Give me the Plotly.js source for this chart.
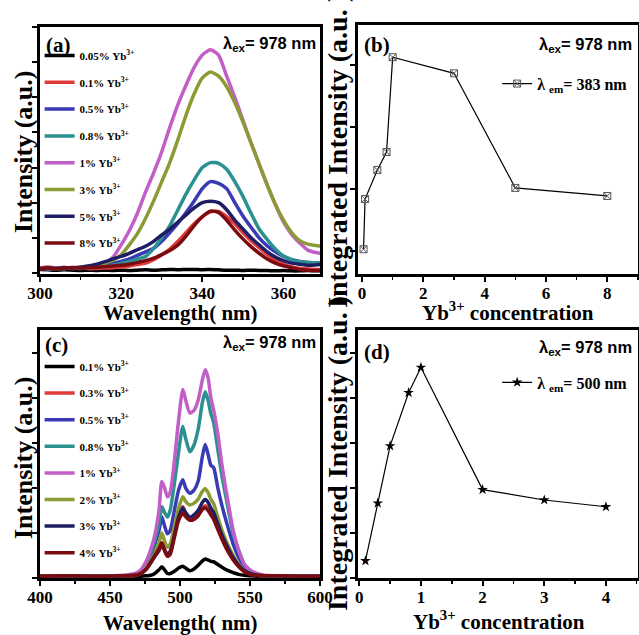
<!DOCTYPE html>
<html><head><meta charset="utf-8">
<script src="https://cdn.plot.ly/plotly-3.0.1.min.js"></script>
<style>html,body{margin:0;padding:0;background:#fff;} #chart{width:639px;height:635px;}</style>
</head><body><div id="chart"></div>
<script>
// ---------- Panel (a): emission spectra around 340 nm ----------
const wlA = [300,302,304,306,308,310,312,314,316,318,320,322,324,326,328,330,332,334,336,338,340,342,344,346,348,350,352,354,356,358,360,362,364,366,368,370];
const a005 = [0.1,0.09,0.08,0.09,0.08,0.07,0.08,0.07,0.08,0.07,0.08,0.07,0.08,0.09,0.08,0.09,0.1,0.09,0.1,0.1,0.09,0.1,0.09,0.08,0.08,0.07,0.08,0.07,0.07,0.06,0.07,0.06,0.06,0.07,0.06,0.06];
const a01 = [0.15,0.17,0.14,0.16,0.13,0.14,0.12,0.13,0.14,0.15,0.17,0.2,0.24,0.28,0.38,0.52,0.68,0.9,1.15,1.4,1.6,1.74,1.75,1.6,1.4,1.15,0.92,0.72,0.52,0.36,0.25,0.17,0.13,0.11,0.1,0.1];
const a05 = [0.13,0.15,0.12,0.14,0.13,0.15,0.16,0.18,0.22,0.27,0.33,0.4,0.5,0.6,0.7,0.9,1.15,1.42,1.72,2.05,2.4,2.6,2.55,2.4,2.0,1.62,1.3,1.0,0.77,0.6,0.47,0.38,0.33,0.3,0.28,0.3];
const a08 = [0.14,0.12,0.13,0.12,0.14,0.13,0.15,0.16,0.18,0.22,0.27,0.33,0.4,0.47,0.7,1.0,1.35,1.8,2.25,2.65,3.0,3.14,3.12,2.95,2.6,2.18,1.7,1.25,0.95,0.68,0.48,0.38,0.32,0.3,0.28,0.3];
const a1 = [0.15,0.12,0.15,0.13,0.16,0.15,0.18,0.2,0.28,0.45,0.8,1.2,1.7,2.3,2.85,3.45,4.15,4.8,5.35,5.85,6.2,6.35,6.2,5.6,5.0,4.35,3.7,3.1,2.5,1.95,1.45,1.1,0.85,0.65,0.58,0.55];
const a3 = [0.12,0.14,0.12,0.15,0.14,0.17,0.2,0.22,0.28,0.36,0.52,0.8,1.12,1.55,2.05,2.6,3.15,3.8,4.5,5.1,5.55,5.72,5.6,5.3,4.85,4.3,3.7,3.1,2.5,1.95,1.5,1.15,0.92,0.82,0.78,0.75];
const a5 = [0.12,0.14,0.13,0.15,0.14,0.16,0.2,0.25,0.32,0.4,0.47,0.56,0.66,0.76,0.9,1.08,1.25,1.45,1.65,1.85,2.0,2.04,2.0,1.8,1.5,1.25,1.0,0.8,0.6,0.45,0.35,0.28,0.25,0.22,0.23,0.25];
const a8 = [0.12,0.14,0.12,0.13,0.15,0.14,0.15,0.16,0.18,0.2,0.22,0.25,0.3,0.35,0.42,0.52,0.64,0.8,1.05,1.35,1.6,1.76,1.72,1.5,1.22,0.97,0.75,0.56,0.4,0.28,0.2,0.15,0.1,0.08,0.07,0.07];
const labelsA = ['0.05%','0.1%','0.5%','0.8%','1%','3%','5%','8%'];

// ---------- Panel (b): integrated intensity, λem = 383 nm ----------
const concB = [0.05,0.1,0.5,0.8,1,3,5,8];
const intB = [1.03,1.84,2.31,2.6,4.13,3.87,2.02,1.89];

// ---------- Panel (c): emission spectra around 500 nm ----------
const wlC = [400,420,440,460,468,472,476,479,482,485,487,489,491,493,496,499,502,504,507,510,513,516,518,520,522,524,527,530,534,538,542,546,550,555,560,570,585,600];
const c01 = [0.03,0.04,0.03,0.04,0.04,0.04,0.05,0.06,0.1,0.18,0.25,0.18,0.1,0.1,0.15,0.22,0.26,0.22,0.16,0.2,0.28,0.38,0.42,0.4,0.37,0.36,0.3,0.24,0.17,0.12,0.08,0.06,0.05,0.04,0.04,0.04,0.03,0.03];
const c03 = [0.04,0.05,0.04,0.05,0.06,0.1,0.2,0.33,0.48,0.6,0.75,0.62,0.52,0.6,1.0,1.4,1.58,1.42,1.3,1.33,1.42,1.55,1.6,1.55,1.42,1.33,1.1,0.88,0.62,0.42,0.26,0.15,0.09,0.06,0.05,0.05,0.04,0.04];
const c05 = [0.04,0.05,0.04,0.05,0.07,0.13,0.28,0.48,0.75,1.05,1.36,1.15,0.98,1.05,1.5,1.95,2.18,2.0,1.88,1.95,2.15,2.7,2.96,2.75,2.5,2.45,2.0,1.6,1.15,0.75,0.45,0.25,0.14,0.08,0.05,0.05,0.04,0.04];
const c08 = [0.04,0.05,0.04,0.05,0.08,0.15,0.32,0.55,0.85,1.2,1.58,1.45,1.35,1.5,2.1,2.8,3.36,3.1,2.8,2.95,3.3,3.9,4.13,3.95,3.65,3.45,2.85,2.25,1.6,0.98,0.6,0.3,0.17,0.09,0.05,0.05,0.04,0.04];
const c1 = [0.04,0.05,0.04,0.06,0.1,0.18,0.38,0.62,0.95,1.5,2.14,2.0,1.8,1.9,2.6,3.5,4.18,3.95,3.66,3.72,3.95,4.4,4.62,4.45,4.0,3.73,3.2,2.5,1.75,1.05,0.6,0.3,0.18,0.1,0.06,0.05,0.04,0.04];
const c2 = [0.04,0.05,0.04,0.05,0.06,0.11,0.22,0.38,0.55,0.78,1.0,0.82,0.68,0.75,1.15,1.55,1.8,1.7,1.62,1.66,1.75,1.92,1.98,1.9,1.75,1.65,1.35,1.05,0.75,0.5,0.3,0.17,0.1,0.06,0.05,0.05,0.04,0.04];
const c3 = [0.04,0.05,0.04,0.05,0.06,0.1,0.2,0.33,0.48,0.62,0.76,0.62,0.52,0.58,0.95,1.35,1.55,1.45,1.35,1.4,1.5,1.68,1.74,1.68,1.55,1.45,1.2,0.95,0.68,0.45,0.28,0.16,0.1,0.06,0.05,0.05,0.04,0.04];
const c4 = [0.04,0.05,0.04,0.05,0.06,0.1,0.2,0.35,0.5,0.65,0.78,0.6,0.48,0.52,0.9,1.28,1.44,1.36,1.28,1.3,1.38,1.52,1.56,1.5,1.4,1.3,1.08,0.86,0.6,0.4,0.25,0.14,0.08,0.06,0.05,0.05,0.04,0.04];
const labelsC = ['0.1%','0.3%','0.5%','0.8%','1%','2%','3%','4%'];

// ---------- Panel (d): integrated intensity, λem = 500 nm ----------
const concD = [0.1,0.3,0.5,0.8,1,2,3,4];
const intD = [0.38,1.66,2.93,4.11,4.67,1.96,1.73,1.58];

const colors = ['#000000','#e03a3a','#3a3ab4','#2a9090','#c25ec8','#8c9a34','#1e1e64','#7a0c10'];

const SERIF = 'Liberation Serif';
const SANS = 'Liberation Sans';

const traces = [];
const seriesA = [a005,a01,a05,a08,a1,a3,a5,a8];
seriesA.forEach((ys,i)=>{
  traces.push({x:wlA, y:ys, type:'scatter', mode:'lines', xaxis:'x', yaxis:'y',
    name: labelsA[i] + ' Yb<sup>3+</sup>', legend:'legend', legendgroup:'a'+i,
    line:{color:colors[i], width:3.5, shape:'spline', smoothing:0.6}});
});
traces.push({x:concB, y:intB, type:'scatter', mode:'lines+markers', xaxis:'x2', yaxis:'y2',
  name:'λ <sub>em</sub>= 383 nm', legend:'legend2',
  line:{color:'#000', width:1.2}, marker:{symbol:'square-x-open', size:7, color:'#555', line:{width:1}}});
const seriesC = [c01,c03,c05,c08,c1,c2,c3,c4];
seriesC.forEach((ys,i)=>{
  traces.push({x:wlC, y:ys, type:'scatter', mode:'lines', xaxis:'x3', yaxis:'y3',
    name: labelsC[i] + ' Yb<sup>3+</sup>', legend:'legend3', legendgroup:'c'+i,
    line:{color:colors[i], width:3.5, shape:'spline', smoothing:0.6}});
});
traces.push({x:concD, y:intD, type:'scatter', mode:'lines+markers', xaxis:'x4', yaxis:'y4',
  name:'λ <sub>em</sub>= 500 nm', legend:'legend4',
  line:{color:'#000', width:1.2}, marker:{symbol:'star', size:8, color:'#000'}});

function ax(o){
  return Object.assign({
    showline:true, linecolor:'#000', linewidth:3, mirror:true,
    ticks:'outside', ticklen:5, tickwidth:2, tickcolor:'#000',
    showgrid:false, zeroline:false, automargin:false,
    tickfont:{family:SERIF, size:17, color:'#000', weight:'bold'}
  }, o);
}
const minorT = (d)=>({dtick:d, ticks:'outside', ticklen:3, tickwidth:1.5, tickcolor:'#000'});

const legBase = {bgcolor:'rgba(0,0,0,0)', borderwidth:0, xanchor:'left', yanchor:'top'};

function ttl(text, x, y, size, angle){
  return {xref:'paper', yref:'paper', x:x, y:y, xanchor:'center', yanchor:'middle', showarrow:false,
    text:text, textangle:angle||0, font:{family:SERIF, size:size, color:'#000', weight:'bold'}};
}
function lab(xr, yr, x, y, text, anchor, fam, size){
  return {xref:xr, yref:yr, x:x, y:y, xanchor:anchor, yanchor:'middle', showarrow:false,
    text:text, font:{family:fam, size:size, color:'#000', weight:'bold'}};
}

const layout = {
  width:639, height:635, margin:{l:0,r:0,t:0,b:0},
  font:{family:SERIF, color:'#000'},
  paper_bgcolor:'#fff', plot_bgcolor:'#fff', showlegend:true,
  xaxis: ax({domain:[0.0626,0.5008], anchor:'y', range:[300,369], dtick:20, tick0:300, minor:minorT(10), ticklabelstandoff:-3}),
  yaxis: ax({domain:[0.5685,0.9575], anchor:'x', range:[-0.03,7], dtick:1, tick0:0, showticklabels:false}),
  xaxis2: ax({domain:[0.5603,0.9984], anchor:'y2', range:[-0.13,9], dtick:2, tick0:0, minor:minorT(1), ticklabelstandoff:-3}),
  yaxis2: ax({domain:[0.5685,0.9606], anchor:'x2', range:[0.63,4.65], dtick:1, tick0:0, showticklabels:false}),
  xaxis3: ax({domain:[0.0626,0.5008], anchor:'y3', range:[400,600], dtick:50, tick0:400, minor:minorT(25), ticklabelstandoff:-3}),
  yaxis3: ax({domain:[0.0898,0.4803], anchor:'x3', range:[0,5.5], dtick:1, tick0:0, showticklabels:false}),
  xaxis4: ax({domain:[0.5603,0.9984], anchor:'y4', range:[-0.02,4.52], dtick:1, tick0:0, minor:minorT(0.5), ticklabelstandoff:-3}),
  yaxis4: ax({domain:[0.0898,0.4803], anchor:'x4', range:[0,5.5], dtick:1, tick0:0, showticklabels:false}),
  legend: Object.assign({}, legBase, {x:0.062, y:0.9354, tracegroupgap:7.8,
    font:{family:SERIF, size:11, color:'#000', weight:'bold'}}),
  legend2: Object.assign({}, legBase, {x:0.778, y:0.895,
    font:{family:SERIF, size:16, color:'#000', weight:'bold'}}),
  legend3: Object.assign({}, legBase, {x:0.062, y:0.4457, tracegroupgap:7.6,
    font:{family:SERIF, size:11, color:'#000', weight:'bold'}}),
  legend4: Object.assign({}, legBase, {x:0.778, y:0.4245,
    font:{family:SERIF, size:16, color:'#000', weight:'bold'}}),
  annotations: [
    // axis titles
    ttl('Wavelength( nm)', 0.2817, 0.5072, 21),
    ttl('Intensity (a.u.)', 0.036, 0.7606, 26, -90),
    ttl('Yb<sup>3+</sup> concentration', 0.795, 0.5095, 21),
    ttl('Integrated Intensity (a.u. )', 0.5274, 0.7622, 28, -90),
    ttl('Wavelength( nm)', 0.2817, 0.0195, 21),
    ttl('Intensity (a.u.)', 0.036, 0.2787, 26, -90),
    ttl('Yb<sup>3+</sup> concentration', 0.781, 0.0225, 21),
    ttl('Integrated Intensity (a.u. )', 0.5274, 0.285, 28, -90),
    // panel labels and excitation notes
    lab('x domain','y domain', 0.015, 0.927, '(a)', 'left', SERIF, 21),
    lab('x domain','y domain', 0.993, 0.932, 'λ<sub>ex</sub>= 978 nm', 'right', SANS, 16.5),
    lab('x2 domain','y2 domain', 0.015, 0.92, '(b)', 'left', SERIF, 21),
    lab('x2 domain','y2 domain', 0.985, 0.92, 'λ<sub>ex</sub>= 978 nm', 'right', SANS, 16.5),
    lab('x3 domain','y3 domain', 0.01, 0.94, '(c)', 'left', SERIF, 21),
    lab('x3 domain','y3 domain', 0.993, 0.948, 'λ<sub>ex</sub>= 978 nm', 'right', SANS, 16.5),
    lab('x4 domain','y4 domain', 0.015, 0.911, '(d)', 'left', SERIF, 21),
    lab('x4 domain','y4 domain', 0.985, 0.927, 'λ<sub>ex</sub>= 978 nm', 'right', SANS, 16.5)
  ]
};

Plotly.newPlot('chart', traces, layout, {displayModeBar:false, staticPlot:true});
</script></body></html>
